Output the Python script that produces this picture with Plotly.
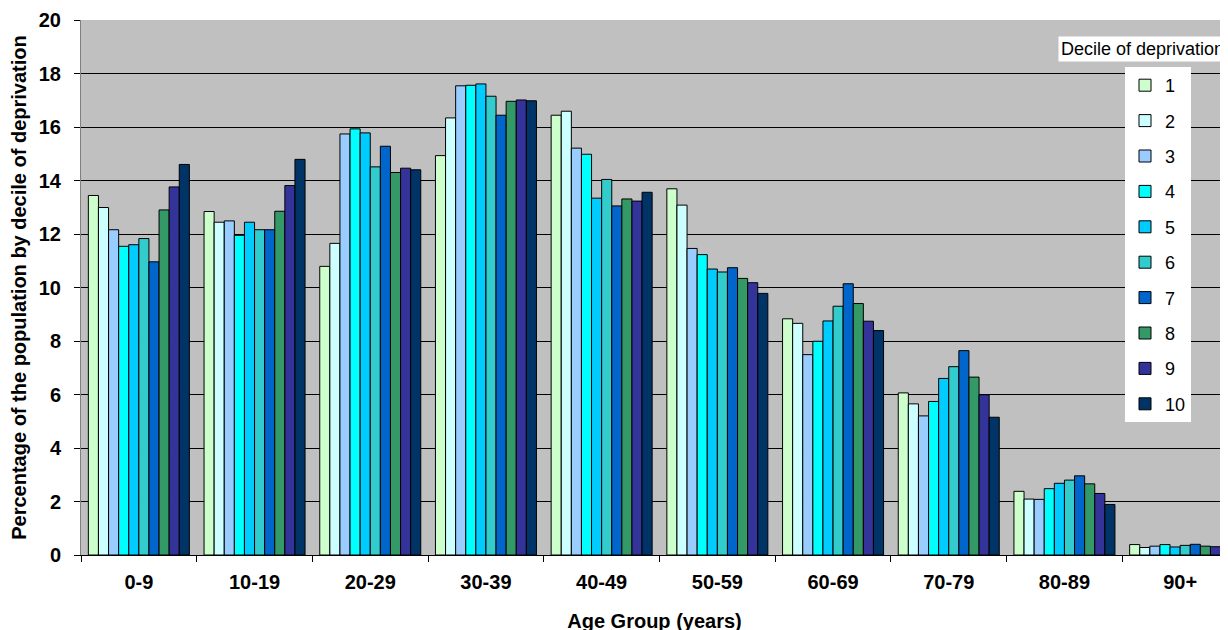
import plotly.graph_objects as go

age_groups = ["0-9", "10-19", "20-29", "30-39", "40-49", "50-59", "60-69", "70-79", "80-89", "90+"]
deciles = ["1", "2", "3", "4", "5", "6", "7", "8", "9", "10"]

# values per decile across age groups
d1 = [13.44, 12.84, 10.79, 14.93, 16.44, 13.69, 8.83, 6.06, 2.38, 0.39]
d2 = [12.99, 12.44, 11.65, 16.34, 16.59, 13.08, 8.66, 5.65, 2.09, 0.28]
d3 = [12.16, 12.49, 15.74, 17.54, 15.21, 11.46, 7.49, 5.20, 2.08, 0.33]
d4 = [11.54, 11.95, 15.93, 17.56, 14.98, 11.23, 7.99, 5.74, 2.48, 0.39]
d5 = [11.60, 12.44, 15.78, 17.61, 13.34, 10.69, 8.75, 6.60, 2.68, 0.30]
d6 = [11.83, 12.16, 14.51, 17.15, 14.04, 10.58, 9.30, 7.04, 2.80, 0.36]
d7 = [10.96, 12.16, 15.28, 16.44, 13.05, 10.74, 10.14, 7.64, 2.96, 0.40]
d8 = [12.90, 12.85, 14.30, 16.96, 13.31, 10.34, 9.40, 6.65, 2.66, 0.33]
d9 = [13.76, 13.81, 14.46, 17.01, 13.23, 10.18, 8.74, 5.99, 2.30, 0.31]
d10 = [14.60, 14.79, 14.40, 16.98, 13.56, 9.78, 8.39, 5.15, 1.89, 0.25]

series = [d1, d2, d3, d4, d5, d6, d7, d8, d9, d10]
colors = ["#CCFFCC", "#CCFFFF", "#99CCFF", "#00FFFF", "#00CCFF",
          "#33CCCC", "#0066CC", "#339966", "#333399", "#003366"]

FONT = "Arial, Liberation Sans, sans-serif"

fig = go.Figure()
for name, vals, col in zip(deciles, series, colors):
    fig.add_trace(go.Bar(
        x=age_groups, y=vals, name=name, legendgroup=name,
        marker=dict(color=col, line=dict(color="#000000", width=1)),
    ))

# page body has an 8px margin: positions below are in figure pixels
OFF = 8
W, H = 1228, 630
ml = 81 - OFF
mt = 20 - OFF
plot_right = 1228 - OFF
plot_bottom = 555 - OFF
mr = W - plot_right
mb = H - plot_bottom
pw = plot_right - ml
ph = plot_bottom - mt
cat_w = 115.7
x_end = -0.5 + pw / cat_w


def px_x(page_x):
    return (page_x - OFF - ml) / pw


def px_y(page_y):
    return (plot_bottom - (page_y - OFF)) / ph


fig.update_layout(
    width=W, height=H,
    margin=dict(l=ml, r=mr, t=mt, b=mb, pad=0),
    paper_bgcolor="white",
    plot_bgcolor="#C0C0C0",
    barmode="group",
    bargap=0.127,
    bargroupgap=0,
    font=dict(family=FONT, color="#000000"),
    showlegend=True,
    legend=dict(
        x=px_x(1125), y=px_y(67),
        xanchor="left", yanchor="top",
        bgcolor="white", borderwidth=0,
        font=dict(family=FONT, size=18, color="#000000"),
        tracegroupgap=9,
        traceorder="grouped",
        itemwidth=30,
    ),
    xaxis=dict(
        type="category",
        range=[-0.5, x_end],
        showline=True, linecolor="#000000", linewidth=1,
        ticks="outside", tickson="boundaries", ticklen=6, tickcolor="#000000",
        tickfont=dict(family=FONT, size=20, color="#000000", weight="bold"),
        ticklabelstandoff=9,
        showgrid=False, zeroline=False,
        title=dict(text="<b>Age Group (years)</b>", font=dict(family=FONT, size=20, color="#000000"), standoff=21),
        automargin=False,
    ),
    yaxis=dict(
        range=[0, 20], dtick=2, tick0=0,
        showline=True, linecolor="#808080", linewidth=1,
        ticks="outside", ticklen=6, tickcolor="#000000",
        tickfont=dict(family=FONT, size=20, color="#000000", weight="bold"),
        ticklabelstandoff=9,
        showgrid=True, gridcolor="#000000", gridwidth=1,
        zeroline=False,
        title=dict(text="<b>Percentage of the population by decile of deprivation</b>",
                   font=dict(family=FONT, size=20, color="#000000"), standoff=10),
        automargin=False,
    ),
)

fig.add_annotation(
    text="Decile of deprivation",
    xref="paper", yref="paper",
    x=px_x(1058), y=px_y(49),
    xanchor="left", yanchor="middle",
    showarrow=False, align="left",
    bgcolor="white", borderpad=2,
    width=180, height=20,
    font=dict(family=FONT, size=18, color="#000000"),
)

fig.write_html("out.html")
